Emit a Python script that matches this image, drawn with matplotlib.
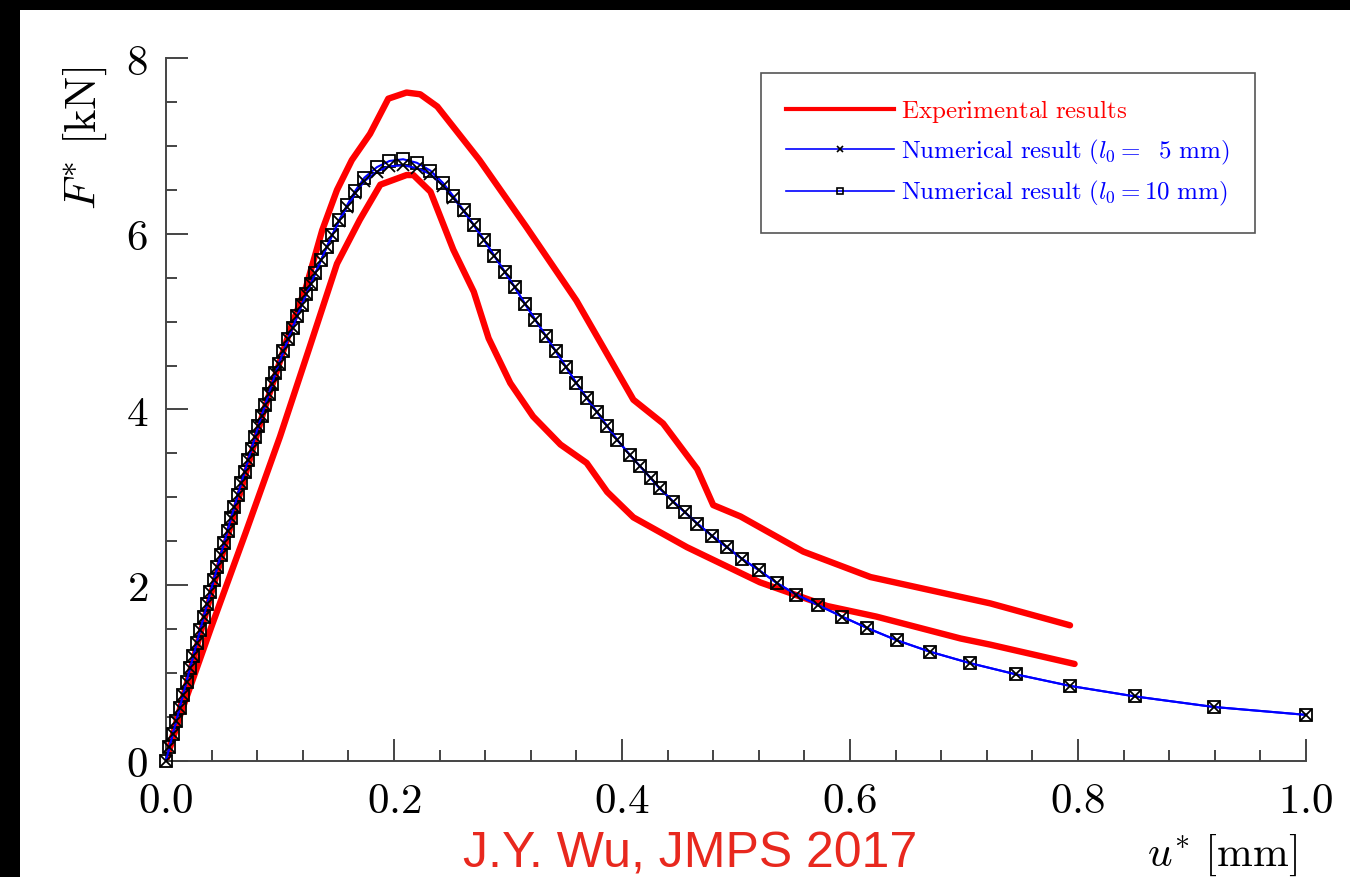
import matplotlib
matplotlib.use('Agg')
import matplotlib.pyplot as plt
from matplotlib.lines import Line2D
from matplotlib.patches import Rectangle
from matplotlib.ticker import FixedLocator, MultipleLocator

plt.rcParams['mathtext.fontset'] = 'cm'

# experimental envelope (two curves)
exp_upper_u = [0.0, 0.04, 0.085, 0.11, 0.123, 0.137, 0.150, 0.163, 0.179, 0.195, 0.211,
               0.223, 0.238, 0.275, 0.316, 0.360, 0.410, 0.436, 0.466, 0.480, 0.504,
               0.559, 0.618, 0.723, 0.793]
exp_upper_F = [0.0, 1.92, 3.95, 4.95, 5.40, 6.04, 6.50, 6.84, 7.14, 7.54, 7.61,
               7.59, 7.45, 6.84, 6.08, 5.24, 4.11, 3.84, 3.32, 2.91, 2.78,
               2.38, 2.09, 1.79, 1.54]

exp_lower_u = [0.0, 0.012, 0.040, 0.070, 0.100, 0.126, 0.150, 0.170, 0.188, 0.211, 0.217,
               0.232, 0.252, 0.270, 0.283, 0.302, 0.322, 0.346, 0.369, 0.387, 0.410,
               0.457, 0.521, 0.580, 0.623, 0.697, 0.723, 0.797]
exp_lower_F = [0.0, 0.50, 1.53, 2.60, 3.69, 4.71, 5.66, 6.16, 6.56, 6.67, 6.67,
               6.48, 5.82, 5.34, 4.81, 4.30, 3.92, 3.60, 3.39, 3.06, 2.77,
               2.43, 2.03, 1.76, 1.64, 1.39, 1.32, 1.10]

# numerical results
num_u = [0.000, 0.003, 0.006, 0.009, 0.012, 0.015, 0.018, 0.021, 0.024, 0.027,
         0.030, 0.033, 0.036, 0.039, 0.042, 0.045, 0.048, 0.051, 0.054, 0.057,
         0.060, 0.063, 0.066, 0.069, 0.072, 0.075, 0.078, 0.081, 0.084, 0.087,
         0.090, 0.093, 0.096, 0.099, 0.103, 0.107, 0.111, 0.115, 0.119, 0.123,
         0.127, 0.131, 0.136, 0.141, 0.146, 0.152, 0.159, 0.166, 0.174, 0.185,
         0.196, 0.208, 0.220, 0.232, 0.243, 0.252, 0.261, 0.270, 0.279, 0.288,
         0.297, 0.306, 0.315, 0.324, 0.333, 0.342, 0.351, 0.360, 0.369, 0.378,
         0.387, 0.396, 0.407, 0.416, 0.425, 0.433, 0.445, 0.455, 0.466, 0.479,
         0.492, 0.505, 0.520, 0.536, 0.553, 0.572, 0.593, 0.615, 0.641, 0.670,
         0.705, 0.746, 0.793, 0.850, 0.919, 1.000]
num5_F = [0.00, 0.15, 0.30, 0.45, 0.60, 0.75, 0.90, 1.05, 1.19, 1.34,
          1.49, 1.63, 1.78, 1.92, 2.06, 2.20, 2.34, 2.48, 2.62, 2.76,
          2.89, 3.03, 3.16, 3.29, 3.42, 3.55, 3.68, 3.81, 3.93, 4.05,
          4.17, 4.29, 4.41, 4.52, 4.66, 4.80, 4.93, 5.06, 5.19, 5.31,
          5.43, 5.55, 5.70, 5.85, 5.99, 6.15, 6.31, 6.46, 6.60, 6.71,
          6.77, 6.78, 6.75, 6.68, 6.55, 6.41, 6.26, 6.10, 5.93, 5.75,
          5.57, 5.39, 5.20, 5.02, 4.84, 4.66, 4.48, 4.30, 4.13, 3.97,
          3.81, 3.65, 3.48, 3.35, 3.22, 3.10, 2.95, 2.83, 2.70, 2.56,
          2.43, 2.30, 2.17, 2.02, 1.89, 1.77, 1.64, 1.51, 1.37, 1.24,
          1.11, 0.98, 0.85, 0.73, 0.61, 0.52]
num10_F = [0.00, 0.15, 0.30, 0.45, 0.60, 0.75, 0.90, 1.05, 1.19, 1.34,
           1.49, 1.63, 1.78, 1.92, 2.06, 2.20, 2.34, 2.48, 2.62, 2.76,
           2.89, 3.03, 3.16, 3.29, 3.42, 3.55, 3.68, 3.81, 3.93, 4.05,
           4.17, 4.29, 4.41, 4.52, 4.66, 4.80, 4.93, 5.06, 5.19, 5.31,
           5.43, 5.55, 5.70, 5.85, 5.99, 6.16, 6.33, 6.49, 6.64, 6.76,
           6.83, 6.85, 6.81, 6.72, 6.58, 6.43, 6.27, 6.10, 5.93, 5.75,
           5.57, 5.39, 5.20, 5.02, 4.84, 4.66, 4.48, 4.30, 4.13, 3.97,
           3.81, 3.65, 3.48, 3.35, 3.22, 3.10, 2.95, 2.83, 2.70, 2.56,
           2.43, 2.30, 2.17, 2.02, 1.89, 1.77, 1.64, 1.51, 1.37, 1.24,
           1.11, 0.98, 0.85, 0.73, 0.61, 0.52]

xticks = [0.0, 0.2, 0.4, 0.6, 0.8, 1.0]
xtick_labels = ['0.0', '0.2', '0.4', '0.6', '0.8', '1.0']
yticks = [0, 2, 4, 6, 8]
ytick_labels = ['0', '2', '4', '6', '8']

legend_labels = [r'$\mathrm{Experimental\ results}$',
                 r'$\mathrm{Numerical\ result}\ (l_0 =\ \ 5\ \mathrm{mm})$',
                 r'$\mathrm{Numerical\ result}\ (l_0 = 10\ \mathrm{mm})$']

RED = '#ff0000'
BLUE = '#0000ff'
AXC = '#444444'

fig = plt.figure(figsize=(13.5, 8.77), dpi=100, facecolor='black')
# white canvas, black strips at top and left like the screenshot
fig.add_artist(Rectangle((20 / 1350, 0), 1, 1 - 10 / 877, transform=fig.transFigure,
                         facecolor='white', edgecolor='none', zorder=-5))

ax = fig.add_axes([166 / 1350, 1 - 760.5 / 877, 1140 / 1350, 702.2 / 877])
ax.set_facecolor('none')

ax.plot(exp_upper_u, exp_upper_F, color=RED, lw=4.6, solid_capstyle='round',
        solid_joinstyle='round', zorder=2)
ax.plot(exp_lower_u, exp_lower_F, color=RED, lw=4.6, solid_capstyle='round',
        solid_joinstyle='round', zorder=2)
ax.plot(num_u, num10_F, color=BLUE, lw=1.5, marker='s', ms=8.5, mfc='none',
        mec='black', mew=1.3, zorder=3, clip_on=False)
ax.plot(num_u, num5_F, color=BLUE, lw=1.5, marker='x', ms=8, mec='black',
        mew=1.3, zorder=4, clip_on=False)

ax.set_xlim(0, 1)
ax.set_ylim(0, 8)
for s in ['top', 'right']:
    ax.spines[s].set_visible(False)
for s in ['left', 'bottom']:
    ax.spines[s].set_linewidth(1.4)
    ax.spines[s].set_color(AXC)

ax.xaxis.set_major_locator(FixedLocator(xticks))
ax.yaxis.set_major_locator(FixedLocator(yticks))
ax.xaxis.set_minor_locator(MultipleLocator(0.04))
ax.yaxis.set_minor_locator(MultipleLocator(0.5))
ax.set_xticklabels(['$' + t + '$' for t in xtick_labels], fontsize=31)
ax.set_yticklabels(['$' + t + '$' for t in ytick_labels], fontsize=31)
ax.tick_params(which='major', direction='in', length=16, width=1.4, color=AXC)
ax.tick_params(which='minor', direction='in', length=8, width=1.4, color=AXC)
ax.tick_params(axis='x', which='major', pad=14)
ax.tick_params(axis='y', which='major', pad=13)

ax.set_xlabel(r'$u^{*}\ [\mathrm{mm}]$', fontsize=31, loc='right')
ax.xaxis.set_label_coords((1297 - 166) / 1140, -(855 - 760.5) / 702.2)
ax.xaxis.label.set_va('center')
ax.set_ylabel(r'$F^{*}\ [\mathrm{kN}]$', fontsize=32)
ax.yaxis.set_label_coords((85 - 166) / 1140, (760.5 - 138) / 702.2)
ax.yaxis.label.set_va('center')

handles = [Line2D([], [], color=RED, lw=3),
           Line2D([], [], color=BLUE, lw=1.2, marker='x', ms=4.5, mec='black', mew=1.2),
           Line2D([], [], color=BLUE, lw=1.2, marker='s', ms=4.5, mfc='none', mec='black', mew=1.2)]
leg = ax.legend(handles, legend_labels, loc='upper left',
                bbox_to_anchor=((761 - 166) / 1140, (760.5 - 73) / 702.2),
                prop={'size': 18}, frameon=True, fancybox=False, framealpha=1,
                edgecolor='#555555', borderpad=1.0, handlelength=4.3,
                handletextpad=0.3, labelspacing=0.5, borderaxespad=0)
leg.get_frame().set_linewidth(1.2)
for t, c in zip(leg.get_texts(), [RED, BLUE, BLUE]):
    t.set_color(c)

fig.text(690 / 1350, 1 - 855 / 877, 'J.Y. Wu, JMPS 2017', color='#e8281e',
         fontsize=36, family='Liberation Sans', ha='center', va='center')

fig.savefig('out.png', dpi=100)
